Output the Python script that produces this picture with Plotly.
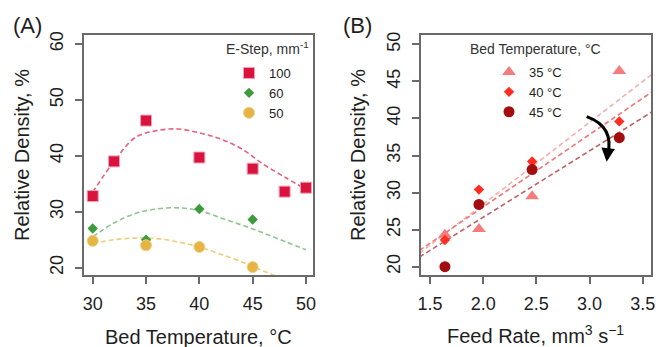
import plotly.graph_objects as go

W, H = 656, 347
FONT = "Liberation Sans, Arial, sans-serif"

# ---------------- Panel A data ----------------
bed_temp_100 = [30, 32, 35, 40, 45, 48, 50]
dens_100 = [32.8, 39.0, 46.3, 39.7, 37.7, 33.6, 34.3]
bed_temp_60 = [30, 35, 40, 45]
dens_60 = [27.0, 25.0, 30.5, 28.6]
bed_temp_50 = [30, 35, 40, 45]
dens_50 = [24.8, 24.0, 23.7, 20.1]

# smooth fit curves
fit_temp = [30, 32, 34, 36, 38, 40, 42, 44, 46, 48, 50]
fit_100 = [33.5, 39.0, 43.3, 44.5, 44.8, 44.1, 43.0, 41.2, 38.5, 36.2, 34.0]
fit_60 = [25.5, 28.0, 29.7, 30.5, 30.7, 30.2, 28.9, 27.6, 26.2, 24.7, 23.2]
fit_50 = [24.3, 25.0, 25.3, 25.2, 24.6, 23.7, 22.4, 21.0, 19.4, 17.9, 16.4]

# ---------------- Panel B data ----------------
feed_rate = [1.64, 1.96, 2.46, 3.28]
dens_35 = [24.3, 25.1, 29.5, 46.4]
dens_40 = [23.6, 30.4, 34.2, 39.6]
dens_45 = [20.0, 28.4, 33.1, 37.4]

# linear fit lines (end values)
fitB_x = [1.40, 3.60]
fitB_35 = [21.8, 46.1]
fitB_40 = [22.2, 43.7]
fitB_45 = [21.3, 41.0]

# ---------------- colours ----------------
c100, c100b = "#D9133E", "#F2A1B4"
c60 = "#3D9B3D"
c50, c50b = "#E5B443", "#F0D089"
k100, k60, k50 = "#E8607B", "#8CC88C", "#F0CD78"
c35, c40, c45 = "#F47C7C", "#FF2D1F", "#A30D0D"
k35, k40, k45 = "#F6AFAF", "#F27878", "#BC6464"
AXC = "#6a6a6a"
TXT = "#1e1e1e"


def pxx(p):
    return p / W


def pxy(p):
    return 1 - p / H


fig = go.Figure()

# Panel A curves
for yv, col in [(fit_100, k100), (fit_60, k60), (fit_50, k50)]:
    fig.add_trace(go.Scatter(x=fit_temp, y=yv, mode="lines", line=dict(color=col, width=1.6, dash="5px,3px", shape="spline"),
                             showlegend=False, hoverinfo="skip", xaxis="x", yaxis="y"))
# Panel A points
fig.add_trace(go.Scatter(x=bed_temp_100, y=dens_100, mode="markers", name="100",
                         marker=dict(symbol="square", size=11, color=c100, line=dict(color=c100b, width=1)),
                         xaxis="x", yaxis="y", legend="legend"))
fig.add_trace(go.Scatter(x=bed_temp_60, y=dens_60, mode="markers", name="60",
                         marker=dict(symbol="diamond", size=8, color=c60, line=dict(width=0)),
                         xaxis="x", yaxis="y", legend="legend"))
fig.add_trace(go.Scatter(x=bed_temp_50, y=dens_50, mode="markers", name="50",
                         marker=dict(symbol="circle", size=11, color=c50, line=dict(color=c50b, width=1)),
                         xaxis="x", yaxis="y", legend="legend"))

# Panel B fit lines
for yv, col in [(fitB_35, k35), (fitB_40, k40), (fitB_45, k45)]:
    fig.add_trace(go.Scatter(x=fitB_x, y=yv, mode="lines", line=dict(color=col, width=1.6, dash="5px,3px"),
                             showlegend=False, hoverinfo="skip", xaxis="x2", yaxis="y2"))
# Panel B points
fig.add_trace(go.Scatter(x=feed_rate, y=dens_35, mode="markers", name="35 °C",
                         marker=dict(symbol="triangle-up", size=12, color=c35, line=dict(width=0)),
                         xaxis="x2", yaxis="y2", legend="legend2"))
fig.add_trace(go.Scatter(x=feed_rate, y=dens_40, mode="markers", name="40 °C",
                         marker=dict(symbol="diamond", size=8, color=c40, line=dict(width=0)),
                         xaxis="x2", yaxis="y2", legend="legend2"))
fig.add_trace(go.Scatter(x=feed_rate, y=dens_45, mode="markers", name="45 °C",
                         marker=dict(symbol="circle", size=11, color=c45, line=dict(width=0)),
                         xaxis="x2", yaxis="y2", legend="legend2"))

ydom = [pxy(275), pxy(35)]
axis_common = dict(showline=True, linecolor=AXC, linewidth=1.5, mirror=True, ticks="outside", ticklen=7,
                   tickcolor=AXC, tickwidth=1.5, showgrid=False, zeroline=False, automargin=False,
                   tickfont=dict(family=FONT, size=18, color=TXT))

fig.update_layout(
    width=W, height=H, margin=dict(l=0, r=0, t=0, b=0, autoexpand=False),
    paper_bgcolor="white", plot_bgcolor="white",
    font=dict(family=FONT, color=TXT),
    xaxis=dict(domain=[pxx(84), pxx(313)], range=[29.18, 50.66], tickvals=[30, 35, 40, 45, 50],
               ticklabelstandoff=5, anchor="y", **axis_common),
    yaxis=dict(domain=ydom, range=[18.69, 61.6], tickvals=[20, 30, 40, 50, 60], tickangle=-90,
               ticklabelstandoff=5, anchor="x", **axis_common),
    xaxis2=dict(domain=[pxx(421), pxx(651)], range=[1.415, 3.578], tickvals=[1.5, 2.0, 2.5, 3.0, 3.5],
                ticktext=["1.5", "2.0", "2.5", "3.0", "3.5"], ticklabelstandoff=5, anchor="y2", **axis_common),
    yaxis2=dict(domain=ydom, range=[18.88, 51.26], tickvals=[20, 25, 30, 35, 40, 45, 50], tickangle=-90,
                ticklabelstandoff=5, anchor="x2", **axis_common),
    legend=dict(x=pxx(229), y=pxy(58), xanchor="left", yanchor="top", bgcolor="rgba(0,0,0,0)",
                font=dict(family=FONT, size=13, color=TXT), tracegroupgap=0, itemwidth=30),
    legend2=dict(x=pxx(489), y=pxy(57), xanchor="left", yanchor="top", bgcolor="rgba(0,0,0,0)",
                 font=dict(family=FONT, size=13, color=TXT), tracegroupgap=0, itemwidth=30),
    showlegend=True,
)

ann = [
    dict(text="(A)", x=pxx(27), y=pxy(26), font=dict(size=22)),
    dict(text="(B)", x=pxx(357), y=pxy(26), font=dict(size=22)),
    dict(text="Bed Temperature, °C", x=pxx(198), y=pxy(337), font=dict(size=20)),
    dict(text="Feed Rate, mm<sup>3</sup> s<sup>−1</sup>", x=pxx(535), y=pxy(334), font=dict(size=20)),
    dict(text="Relative Density, %", x=pxx(22), y=pxy(155), font=dict(size=20), textangle=-90),
    dict(text="Relative Density, %", x=pxx(358), y=pxy(155), font=dict(size=20), textangle=-90),
    dict(text="E-Step, mm<sup>-1</sup>", x=pxx(267), y=pxy(48), font=dict(size=14, color="#333333")),
    dict(text="Bed Temperature, °C", x=pxx(535), y=pxy(49), font=dict(size=14, color="#333333")),
]
for a in ann:
    a.update(xref="paper", yref="paper", showarrow=False, xanchor="center", yanchor="middle")
    a["font"] = dict(family=FONT, color=a["font"].get("color", TXT), size=a["font"]["size"])
    fig.add_annotation(**a)

# curved arrow in panel B
fig.add_shape(type="path", xref="x2", yref="y2", path="M 2.973,40.24 Q 3.238,38.88 3.170,35.0",
              line=dict(color="black", width=3))
fig.add_annotation(x=3.161, y=34.17, ax=3.172, ay=35.6, xref="x2", yref="y2", axref="x2", ayref="y2",
                   showarrow=True, arrowhead=2, arrowsize=0.9, arrowwidth=3, arrowcolor="black", text="")

fig.write_html("out.html", config={"displayModeBar": False},
               post_script="document.body.style.margin='0';document.body.style.padding='0';"
                           "document.documentElement.style.overflow='hidden';")
